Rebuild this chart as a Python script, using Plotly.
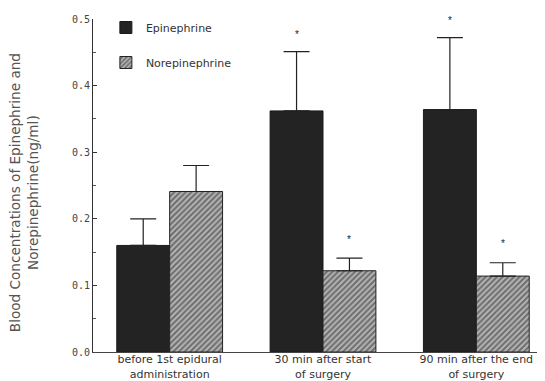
import plotly.graph_objects as go

categories = ["before 1st epidural<br>administration",
              "30 min after start<br>of surgery",
              "90 min after the end<br>of surgery"]
epinephrine = [0.160, 0.362, 0.364]
epinephrine_err = [0.040, 0.089, 0.108]
norepinephrine = [0.241, 0.122, 0.114]
norepinephrine_err = [0.039, 0.019, 0.020]
epi_significant = [False, True, True]
norepi_significant = [False, True, True]
y_ticks = [0.0, 0.1, 0.2, 0.3, 0.4, 0.5]
y_title = "Blood Concentrations of Epinephrine and<br>Norepinephrine(ng/ml)"

xs = list(range(len(categories)))
bw = 0.345

fig = go.Figure()
fig.add_trace(go.Bar(
    x=xs, y=epinephrine, name="Epinephrine", width=bw, offset=-bw,
    marker=dict(color="#232323", line=dict(color="#1a1a1a", width=1)),
    error_y=dict(type="data", array=epinephrine_err, symmetric=False,
                 arrayminus=[0] * 3, color="#222", thickness=1.2, width=13),
    legendgroup="a",
))
fig.add_trace(go.Bar(
    x=xs, y=norepinephrine, name="Norepinephrine", width=bw, offset=0,
    marker=dict(color="#b0b0b0", line=dict(color="#222", width=1),
                pattern=dict(shape="/", fgcolor="#262626", bgcolor="#b4b4b4",
                             size=4, solidity=0.5)),
    error_y=dict(type="data", array=norepinephrine_err, symmetric=False,
                 arrayminus=[0] * 3, color="#222", thickness=1.2, width=13),
    legendgroup="b",
))

annotations = []
for i in xs:
    if epi_significant[i]:
        annotations.append(dict(x=i - bw / 2, y=epinephrine[i] + epinephrine_err[i],
                                xref="x", yref="y", text="*", showarrow=False,
                                yanchor="middle", yshift=17,
                                font=dict(size=10, color="#222222")))
    if norepi_significant[i]:
        annotations.append(dict(x=i + bw / 2, y=norepinephrine[i] + norepinephrine_err[i],
                                xref="x", yref="y", text="*", showarrow=False,
                                yanchor="middle", yshift=19,
                                font=dict(size=10, color="#222222")))
annotations.append(dict(x=-0.150, y=0.477, xref="paper", yref="paper",
                        text=y_title, textangle=-90, showarrow=False,
                        xanchor="center", yanchor="middle",
                        font=dict(size=13.6, color="#555",
                                  family="DejaVu Sans, sans-serif")))

fig.update_layout(
    width=545, height=381,
    margin=dict(l=85, r=0, t=11, b=37),
    paper_bgcolor="white", plot_bgcolor="white",
    font=dict(family="Liberation Sans, Arial, sans-serif", color="#333"),
    showlegend=True,
    legend=dict(x=0.028, y=1.018, xanchor="left", yanchor="top",
                bgcolor="rgba(0,0,0,0)",
                font=dict(size=11, color="#333", family="DejaVu Sans, sans-serif"),
                tracegroupgap=16, traceorder="grouped"),
    annotations=annotations,
    bargap=0.31,
)
fig.update_xaxes(
    range=[-0.5, 2.5], tickvals=xs, ticktext=categories,
    showline=True, linecolor="#444", linewidth=1, ticks="",
    tickfont=dict(size=11, color="#333", family="DejaVu Sans, sans-serif"),
    ticklabelstandoff=-3,
    showgrid=False, zeroline=False,
)
fig.update_yaxes(
    range=[0, 0.5], tickvals=y_ticks, ticktext=["%.1f" % v for v in y_ticks],
    showline=True, linecolor="#333", linewidth=1,
    ticks="inside", ticklen=4, tickcolor="#333",
    minor=dict(dtick=0.05, ticks="inside", ticklen=3, tickcolor="#555"),
    tickfont=dict(size=10, color="#444", family="DejaVu Sans Mono, monospace"),
    showgrid=False, zeroline=False,
)

fig.write_html("out.html")
